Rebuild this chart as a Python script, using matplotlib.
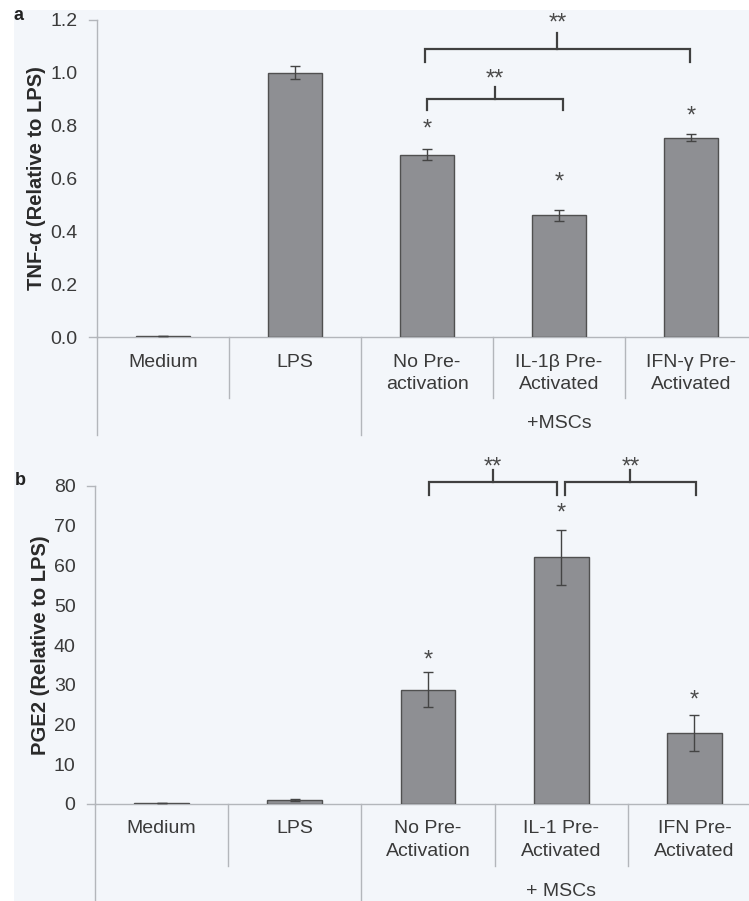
import matplotlib
matplotlib.use("Agg")
import matplotlib.pyplot as plt
from matplotlib.patches import Rectangle
from matplotlib.transforms import blended_transform_factory, ScaledTranslation

plt.rcParams['font.family'] = ['Liberation Sans', 'DejaVu Sans']

# ---------------- data ----------------
cats_a = ["Medium", "LPS", "No Pre-\nactivation", "IL-1β Pre-\nActivated", "IFN-γ Pre-\nActivated"]
vals_a = [0.003, 1.0, 0.69, 0.46, 0.755]
errs_a = [0.0, 0.025, 0.02, 0.02, 0.012]
star_a = [None, None, 0.80, 0.60, 0.85]
group_a = "+MSCs"
ylabel_a = "TNF-α (Relative to LPS)"
yticks_a = [0.0, 0.2, 0.4, 0.6, 0.8, 1.0, 1.2]

cats_b = ["Medium", "LPS", "No Pre-\nActivation", "IL-1 Pre-\nActivated", "IFN Pre-\nActivated"]
vals_b = [0.2, 1.0, 28.7, 62.1, 17.9]
errs_b = [0.0, 0.2, 4.4, 6.9, 4.5]
star_b = [None, None, 37, 74, 27]
group_b = "+ MSCs"
ylabel_b = "PGE2 (Relative to LPS)"
yticks_b = [0, 10, 20, 30, 40, 50, 60, 70, 80]

# brackets: (x_start, x_end, leg_bottom, bar_y, tick_top, label_y)
brackets_a = [(2.0, 3.03, 0.86, 0.90, 0.947, 0.99),
              (1.985, 3.99, 1.04, 1.09, 1.15, 1.20)]
brackets_b = [(2.01, 2.97, 77.7, 81.0, 84.0, 85.6),
              (3.03, 4.01, 77.7, 81.0, 84.0, 85.6)]

# ---------------- style ----------------
W, H = 749, 901
BG = "#f3f6fa"
BAR = "#8e8f93"
EDGE = "#505050"
AX = "#b3b6bb"
TXT = "#3a3a3a"
STAR = "#4a4a4a"
FS = 14
SFS = 17

fig = plt.figure(figsize=(W / 100, H / 100), dpi=100)
fig.patch.set_facecolor("white")
fig.patches.append(Rectangle((14 / W, 0), 1, 1 - 10 / H, transform=fig.transFigure,
                             facecolor=BG, edgecolor="none", zorder=-10))


def panel(rect, cats, vals, errs, stars, ylabel, yticks, ylim, group, brackets,
          fmt, line1, line2, grp_y, short_y, long_y, letter, letter_xy):
    ax = fig.add_axes(rect)
    ax.set_facecolor("none")
    x = list(range(len(cats)))
    ax.bar(x, vals, width=0.41, color=BAR, edgecolor=EDGE, linewidth=1.0, zorder=3)
    ax.errorbar(x, vals, yerr=errs, fmt="none", ecolor="#444444", elinewidth=1.0,
                capsize=3.5, capthick=1.0, zorder=4)
    # glyph '*' sits high in its box: shift down a few pixels
    star_tr = ax.transData + ScaledTranslation(0, -4 / 100, fig.dpi_scale_trans)
    for xi, s in zip(x, stars):
        if s is not None:
            ax.text(xi, s, "*", ha="center", va="center", fontsize=SFS, color=STAR,
                    transform=star_tr)
    for (x0, x1, lb, by, tt, ly) in brackets:
        xm = (x0 + x1) / 2
        ax.plot([x0, x0, x1, x1], [lb, by, by, lb], color="#404040", lw=1.6,
                clip_on=False, solid_joinstyle="miter")
        ax.plot([xm, xm], [by, tt], color="#404040", lw=1.6, clip_on=False)
        ax.text(xm, ly, "**", ha="center", va="center", fontsize=SFS, color=STAR,
                transform=star_tr)
    ax.set_xlim(-0.5, len(cats) - 0.5)
    ax.set_ylim(*ylim)
    ax.set_yticks(yticks)
    ax.set_yticklabels([fmt.format(t) for t in yticks])
    ax.tick_params(axis="y", length=0, pad=14, labelsize=FS, labelcolor=TXT)
    ax.set_xticks([])
    for sp in ["top", "right"]:
        ax.spines[sp].set_visible(False)
    for sp in ["left", "bottom"]:
        ax.spines[sp].set_color(AX)
        ax.spines[sp].set_linewidth(1.0)
    tr = blended_transform_factory(ax.transData, ax.transAxes)
    # small extensions at the axis corners
    dx = 8 / (rect[2] * W) * len(cats)
    ax.plot([-0.5 - dx, -0.5], [0, 0], transform=tr, color=AX, lw=1.0, clip_on=False)
    ax.plot([-0.5 - dx, -0.5], [1, 1], transform=tr, color=AX, lw=1.0, clip_on=False)
    # category separators
    for xs, yb in [(-0.5, long_y), (0.5, short_y), (1.5, long_y), (2.5, short_y), (3.5, short_y)]:
        ax.plot([xs, xs], [0, yb], transform=tr, color=AX, lw=1.0, clip_on=False)
    # category labels
    for xi, c in zip(x, cats):
        lines = c.split("\n")
        ax.text(xi, line1, lines[0], transform=tr, ha="center", va="center",
                fontsize=FS, color=TXT)
        if len(lines) > 1:
            ax.text(xi, line2, lines[1], transform=tr, ha="center", va="center",
                    fontsize=FS, color=TXT)
    ax.text(3, grp_y, group, transform=tr, ha="center", va="center", fontsize=FS, color=TXT)
    ax.set_ylabel(ylabel, fontsize=14.5, fontweight="bold", color="#2a2a2a", labelpad=3)
    fig.text(letter_xy[0] / W, 1 - letter_xy[1] / H, letter, fontsize=13,
             fontweight="bold", color="#222222", ha="left", va="center")
    return ax


# panel a: axis x 97..757 px, y 20..337 px
ax_a = panel([97 / W, 1 - 337 / H, 660 / W, 317 / H], cats_a, vals_a, errs_a, star_a,
             ylabel_a, yticks_a, (0, 1.2), group_a, brackets_a, "{:.1f}",
             -0.0789, -0.1514, -0.2713, -0.1924, -0.309, "a", (14, 15))

# panel b: axis x 95..761 px, y 486..804 px
ax_b = panel([95 / W, 1 - 804 / H, 666 / W, 318 / H], cats_b, vals_b, errs_b, star_b,
             ylabel_b, yticks_b, (0, 80), group_b, brackets_b, "{:d}",
             -0.0786, -0.1509, -0.2767, -0.195, -0.33, "b", (15, 480))

fig.savefig("out.png", dpi=100)
